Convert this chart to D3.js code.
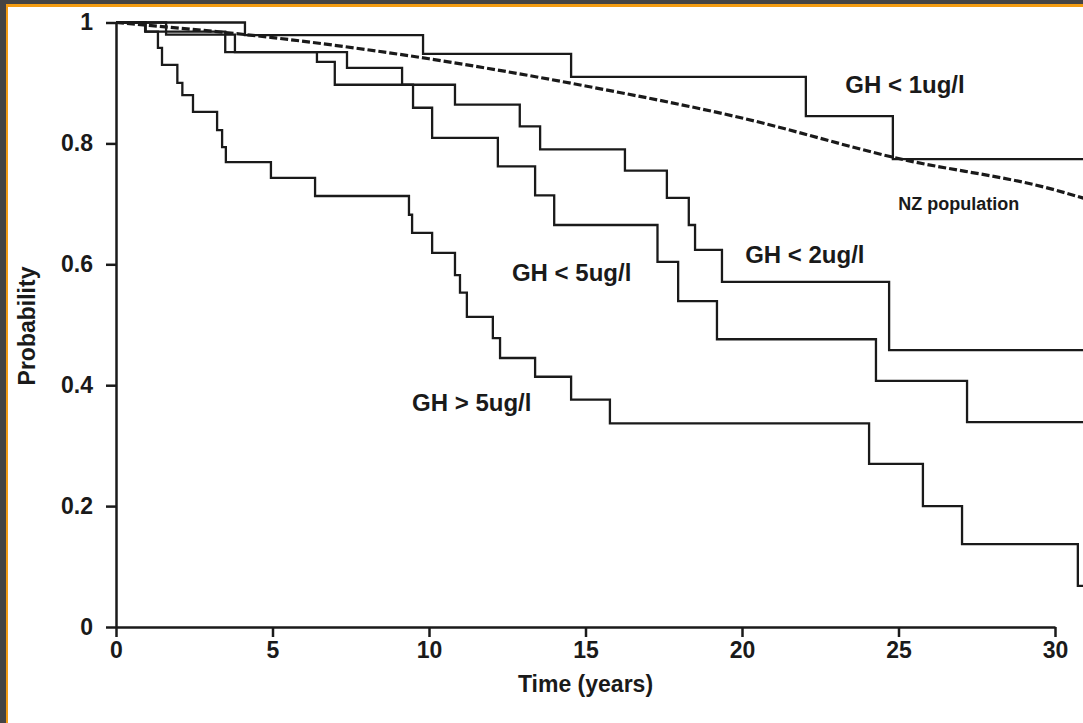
<!DOCTYPE html>
<html><head><meta charset="utf-8">
<script src="https://cdn.jsdelivr.net/npm/d3@7/dist/d3.min.js"></script>
<style>html,body{margin:0;padding:0;background:#fff;}svg{display:block;}</style>
</head><body>
<script>
// ---- data ----
const xTicks = [0, 5, 10, 15, 20, 25, 30];
const yTicks = [0, 0.2, 0.4, 0.6, 0.8, 1];
const yTickLabels = ["0", "0.2", "0.4", "0.6", "0.8", "1"];

const gh1Time = [0, 4.12, 9.81, 14.54, 22.04, 24.82, 31];
const gh1Surv = [1, 0.979, 0.948, 0.910, 0.845, 0.774, 0.774];

const gh2Time = [0, 1.6, 3.8, 7.38, 9.14, 10.83, 12.9, 13.55, 16.26, 17.6, 18.3, 18.5, 19.36, 24.7, 31];
const gh2Surv = [1, 0.98, 0.951, 0.925, 0.897, 0.864, 0.828, 0.790, 0.755, 0.710, 0.665, 0.624, 0.571, 0.458, 0.458];

const gh5Time = [0, 0.95, 3.49, 6.42, 6.99, 9.49, 10.1, 12.2, 13.39, 14.0, 17.3, 17.96, 19.2, 24.28, 27.19, 31];
const gh5Surv = [1, 0.985, 0.951, 0.935, 0.897, 0.859, 0.809, 0.762, 0.714, 0.665, 0.604, 0.539, 0.476, 0.407, 0.339, 0.339];

const ghHiTime = [0, 0.93, 1.34, 1.47, 1.96, 2.12, 2.46, 3.23, 3.39, 3.51, 4.95, 6.36, 9.36, 9.46, 10.10, 10.83, 10.99, 11.21, 12.04, 12.27, 13.39, 14.54, 15.78, 24.06, 25.78, 27.03, 30.73, 31];
const ghHiSurv = [1, 0.985, 0.958, 0.930, 0.900, 0.880, 0.852, 0.822, 0.794, 0.769, 0.743, 0.713, 0.682, 0.652, 0.619, 0.582, 0.553, 0.513, 0.478, 0.445, 0.414, 0.376, 0.337, 0.270, 0.200, 0.137, 0.068, 0.068];

const nzTime = [0, 5, 10, 15, 20, 25, 30, 31];
const nzSurv = [1, 0.975, 0.94, 0.895, 0.842, 0.775, 0.723, 0.708];

const labelText = ["GH < 1ug/l", "NZ population", "GH < 2ug/l", "GH < 5ug/l", "GH > 5ug/l"];
const labelT = [23.3, 24.99, 20.1, 12.65, 9.46];
const labelP = [0.884, 0.690, 0.602, 0.573, 0.357];

// ---- drawing ----
const W = 1083, H = 723;
const svg = d3.select("body").append("svg").attr("width", W).attr("height", H);
svg.append("rect").attr("width", W).attr("height", H).attr("fill", "#444444");
svg.append("rect").attr("x", 6).attr("y", 4).attr("width", W).attr("height", H).attr("fill", "#f39c12");
svg.append("rect").attr("x", 8).attr("y", 7).attr("width", W).attr("height", H).attr("fill", "#ffffff");

const x = d3.scaleLinear().domain([0, 30]).range([116, 1055]);
const y = d3.scaleLinear().domain([0, 1]).range([627, 22.5]);

const font = "'Liberation Sans', Arial, Helvetica, sans-serif";
const ink = "#1a1a1a";

const xAxis = svg.append("g").attr("transform", "translate(0,627)")
  .call(d3.axisBottom(x).tickValues(xTicks).tickSize(10).tickSizeOuter(0).tickPadding(5).tickFormat(d3.format("d")));
const yAxis = svg.append("g").attr("transform", "translate(116,0)")
  .call(d3.axisLeft(y).tickValues(yTicks).tickSize(10).tickSizeOuter(0).tickPadding(13).tickFormat((d, i) => yTickLabels[i]));
[xAxis, yAxis].forEach(g => {
  g.select(".domain").attr("stroke", ink).attr("stroke-width", 2.5);
  g.selectAll(".tick line").attr("stroke", ink).attr("stroke-width", 2.5);
  g.selectAll("text").attr("fill", ink).style("font-family", font).style("font-weight", "bold").style("font-size", "23px");
});

const line = d3.line().x(d => x(d[0])).y(d => y(d[1])).curve(d3.curveStepAfter);
const series = [[gh1Time, gh1Surv], [gh2Time, gh2Surv], [gh5Time, gh5Surv], [ghHiTime, ghHiSurv]];
series.forEach(([t, s]) => {
  svg.append("path").datum(t.map((v, i) => [v, s[i]]))
    .attr("d", line).attr("fill", "none").attr("stroke", ink).attr("stroke-width", 2.3);
});

const nzLine = d3.line().x(d => x(d[0])).y(d => y(d[1])).curve(d3.curveMonotoneX);
svg.append("path").datum(nzTime.map((v, i) => [v, nzSurv[i]]))
  .attr("d", nzLine).attr("fill", "none").attr("stroke", ink).attr("stroke-width", 3.2)
  .attr("stroke-dasharray", "8,3");

labelText.forEach((txt, i) => {
  svg.append("text").attr("x", x(labelT[i])).attr("y", y(labelP[i]))
    .attr("text-anchor", "start").attr("fill", ink)
    .style("font-family", font).style("font-weight", "bold")
    .style("font-size", i === 1 ? "18px" : "24px").text(txt);
});

svg.append("text").attr("x", x(15)).attr("y", 692).attr("text-anchor", "middle").attr("fill", ink)
  .style("font-family", font).style("font-weight", "bold").style("font-size", "23px").text("Time (years)");
svg.append("text").attr("transform", "translate(35,326) rotate(-90)").attr("text-anchor", "middle").attr("fill", ink)
  .style("font-family", font).style("font-weight", "bold").style("font-size", "23px").text("Probability");
</script>
</body></html>
